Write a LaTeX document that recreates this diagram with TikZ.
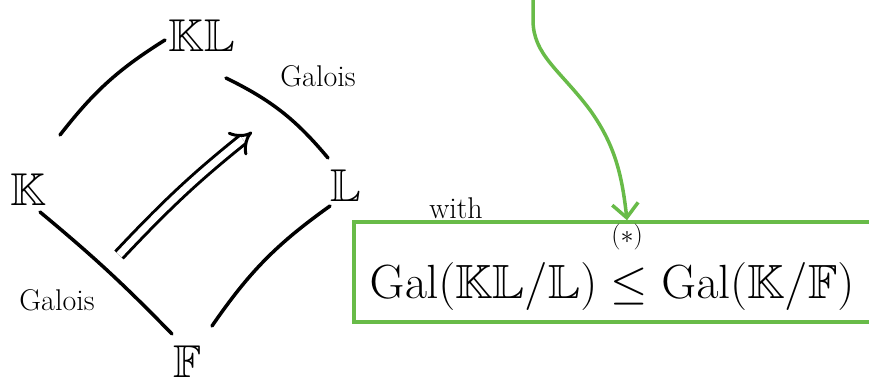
\RequirePackage{fix-cm}
\documentclass[tikz,border=0pt]{standalone}
\usepackage{amssymb}
\usetikzlibrary{arrows.meta,calc}
\definecolor{pengreen}{RGB}{104,187,72}
\begin{document}
\begin{tikzpicture}[x=1pt,y=-1pt,
  ink/.style={line width=3.5pt,line cap=round,black},
  greenink/.style={line width=3.5pt,line cap=round,pengreen},
  field/.style={font=\fontsize{46}{50}\selectfont,inner sep=0pt},
  lbl/.style={font=\fontsize{30}{34}\selectfont,inner sep=0pt}]
\useasboundingbox (0,0) rectangle (869,385);
\node[field] (KL) at (202,36) {$\mathbb{KL}$};
\node[field] (K) at (28,190) {$\mathbb{K}$};
\node[field] (L) at (346,186) {$\mathbb{L}$};
\node[field] (F) at (188,362) {$\mathbb{F}$};
\node[lbl] (g1) at (318,76) {Galois};
\node[lbl] (g2) at (57,300) {Galois};
\node[lbl] (with) at (456,208) {with};
\draw[ink] ($(K)+(32,-55)$) to[bend left=10] ($(KL)+(-37,4)$);
\draw[ink] ($(L)+(-18,-28)$) to[bend right=12] ($(KL)+(24,42)$);
\draw[ink] ($(F)+(-16,-28)$) to[bend right=3] ($(K)+(12,22)$);
\draw[ink] ($(F)+(24,-36)$) to[bend left=10] ($(L)+(-16,20)$);
\coordinate (a1) at (119,255);
\coordinate (a2) at (252,132);
\draw[line width=3pt,double,double distance=7pt,-{Implies[length=10pt]}] (a1) to[bend left=4] (a2);
\node[draw=pengreen,line width=3.5pt,minimum width=530pt,minimum height=100pt,anchor=west,inner sep=0pt] (box) at (352,272) {};
\node[font=\fontsize{48}{52}\selectfont,inner sep=0pt] (eq) at (612,286) {$\mathrm{Gal}(\mathbb{KL}/\mathbb{L}) \leq \mathrm{Gal}(\mathbb{K}/\mathbb{F})$};
\node[font=\fontsize{26}{30}\selectfont,inner sep=0pt] (star) at (627,237) {$(\ast)$};
\coordinate (top) at (533,0);
\draw[greenink,-{Straight Barb[length=14pt,width=26pt,line width=3.5pt]}] (top) -- (533,20) .. controls (533,55) and (560,70) .. (590,110) .. controls (615,145) and (622,175) .. (box.north -| 627,0);
\end{tikzpicture}
\end{document}
